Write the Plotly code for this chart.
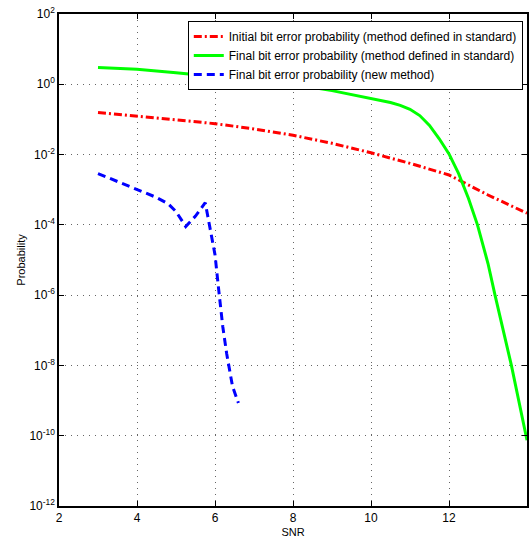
import plotly.graph_objects as go

# ---- data (log10 of probability) ----
snr_init = [3, 4, 5, 6, 7, 8, 9, 10, 11, 12, 13, 14]
log_init = [-0.80, -0.90, -1.01, -1.12, -1.27, -1.45, -1.68, -1.95, -2.25, -2.58, -3.15, -3.67]

snr_final = [3, 4, 5, 6, 7, 8, 9, 10, 10.5, 10.75, 11, 11.25, 11.5, 11.75, 12, 12.25, 12.5,
             12.73, 13.0, 13.18, 13.6, 14]
log_final = [0.48, 0.43, 0.33, 0.22, 0.12, 0.0, -0.18, -0.40, -0.52, -0.60, -0.71, -0.89,
             -1.17, -1.55, -1.98, -2.55, -3.25, -4.0, -5.1, -6.0, -8.0, -10.13]

snr_new = [3.0, 3.4, 3.85, 4.2, 4.5, 4.8, 5.0, 5.25, 5.5, 5.75, 5.85, 6.0, 6.1, 6.2,
           6.3, 6.45, 6.6]
log_new = [-2.54, -2.72, -2.93, -3.08, -3.22, -3.40, -3.62, -4.05, -3.75, -3.37, -4.0,
           -4.85, -5.9, -6.9, -7.67, -8.6, -9.07]

names = ["Initial bit error probability (method defined in standard)",
         "Final bit error probability (method defined in standard)",
         "Final bit error probability (new method)"]

x_ticks = [2, 4, 6, 8, 10, 12, 14]
y_exp = [2, 0, -2, -4, -6, -8, -10, -12]

font_family = "Liberation Sans, Arial, sans-serif"

fig = go.Figure()
fig.add_trace(go.Scatter(x=snr_init, y=[10 ** v for v in log_init], mode="lines",
                         name=names[0],
                         line=dict(color="#ff0000", width=3, dash="8px,3px,2px,3px")))
fig.add_trace(go.Scatter(x=snr_final, y=[10 ** v for v in log_final], mode="lines",
                         name=names[1],
                         line=dict(color="#00ff00", width=3)))
fig.add_trace(go.Scatter(x=snr_new, y=[10 ** v for v in log_new], mode="lines",
                         name=names[2],
                         line=dict(color="#0000ff", width=3, dash="8px,5px")))

axis_common = dict(showline=True, linecolor="black", linewidth=1.5, mirror="ticks",
                   ticks="inside", ticklen=5, tickcolor="black",
                   showgrid=True, gridcolor="#666666", griddash="1px,5px", gridwidth=1,
                   zeroline=False, tickfont=dict(size=12, color="black", family=font_family))

fig.update_xaxes(range=[2, 14], tickvals=x_ticks, ticktext=[str(v) for v in x_ticks],
                 title=dict(text="SNR", font=dict(size=11, color="black"), standoff=4),
                 **axis_common)
fig.update_yaxes(type="log", range=[-12, 2], tickvals=[10 ** e for e in y_exp],
                 ticktext=["10<sup>%d</sup>" % e for e in y_exp],
                 title=dict(text="Probability", font=dict(size=11, color="black"), standoff=2),
                 **axis_common)

fig.update_layout(
    width=529, height=545,
    margin=dict(l=59, r=2, t=14, b=39, autoexpand=False),
    paper_bgcolor="white", plot_bgcolor="white",
    font=dict(family=font_family, color="black"),
    showlegend=True,
    legend=dict(x=0.991, y=0.986, xanchor="right", yanchor="top",
                bgcolor="white", bordercolor="black", borderwidth=1,
                font=dict(size=12, color="black"), tracegroupgap=0,
                itemwidth=30),
)

fig.write_html("out.html")
